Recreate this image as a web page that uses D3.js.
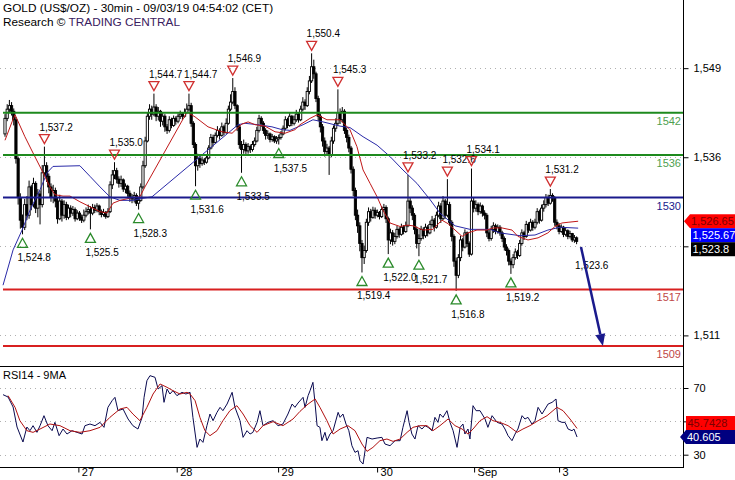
<!DOCTYPE html>
<html><head><meta charset="utf-8">
<script src="https://cdn.jsdelivr.net/npm/d3@7"></script>
<style>body{margin:0;background:#fff}svg{display:block}text{font-family:"Liberation Sans",Arial,sans-serif}</style>
</head><body><svg id="c" width="735" height="480"></svg>
<script>
// ---------- DATA ----------
const titleLine = "GOLD (US$/OZ) - 30min - 09/03/19 04:54:02 (CET)";
const firstOpen = 1539.0;
const closes = [
1541.2,1542.5,1543.0,1542.2,1541.0,1535.5,1530.0,1526.8,1525.8,1529.0,
1527.5,1531.5,1529.0,1532.0,1528.5,1530.5,1529.0,1533.5,1534.5,1533.0,
1531.5,1530.0,1531.0,1529.5,1527.0,1529.5,1527.5,1529.0,1527.2,1528.5,
1527.8,1528.3,1527.0,1527.8,1527.2,1526.8,1527.5,1528.0,1528.3,1527.8,
1528.6,1528.2,1528.8,1528.0,1527.6,1527.9,1527.3,1528.0,1531.8,1533.2,
1533.8,1532.6,1532.0,1532.5,1531.2,1531.6,1530.6,1530.0,1529.8,1530.3,
1529.2,1529.6,1531.5,1534.5,1538.0,1541.5,1542.5,1541.8,1542.8,1541.5,
1542.2,1540.8,1541.5,1540.0,1539.5,1541.0,1540.2,1541.2,1540.8,1541.5,
1541.8,1541.5,1542.0,1542.5,1543.0,1540.5,1537.5,1534.5,1535.5,1534.8,
1535.3,1535.0,1535.6,1537.0,1538.5,1537.8,1538.8,1539.5,1538.8,1540.0,
1539.2,1540.5,1542.5,1543.5,1545.0,1543.0,1540.0,1537.5,1536.8,1537.5,
1536.6,1537.2,1536.8,1537.5,1538.0,1539.5,1541.2,1540.5,1539.5,1538.8,
1539.0,1538.2,1538.6,1538.0,1538.3,1538.5,1539.0,1539.8,1541.0,1540.2,
1541.5,1540.5,1541.0,1541.8,1541.0,1542.5,1543.5,1543.0,1545.0,1546.5,
1548.5,1547.5,1544.0,1541.5,1540.0,1538.0,1536.5,1537.0,1536.0,1538.0,
1539.8,1540.5,1542.0,1541.0,1542.2,1539.5,1538.5,1537.0,1534.0,1531.0,
1527.5,1526.0,1523.5,1521.5,1522.5,1526.5,1528.0,1527.2,1528.2,1527.5,
1527.9,1527.3,1528.3,1528.6,1527.0,1524.0,1525.0,1523.8,1524.5,1525.5,
1524.8,1525.8,1525.2,1526.0,1529.5,1528.5,1527.5,1525.5,1523.5,1524.2,
1525.5,1524.6,1525.8,1525.0,1526.2,1526.8,1525.8,1527.5,1528.8,1527.0,
1529.5,1527.5,1529.0,1526.5,1524.5,1521.0,1519.0,1521.5,1524.0,1523.0,
1525.0,1523.5,1522.0,1529.5,1528.5,1529.0,1528.0,1528.8,1527.8,1527.5,
1525.0,1524.2,1525.5,1526.0,1525.2,1525.8,1525.0,1524.2,1523.0,1522.5,
1521.0,1520.5,1521.5,1522.3,1521.8,1523.5,1525.0,1524.5,1526.2,1525.4,
1526.5,1525.8,1526.5,1528.0,1526.8,1528.5,1529.0,1530.0,1529.2,1530.3,
1530.0,1526.5,1526.0,1525.2,1525.8,1524.8,1525.3,1524.5,1524.9,1524.0,1524.3,1523.8];
const highs = [
1541.8,1543.2,1543.8,1543.5,1542.6,1541.4,1535.8,1530.6,1527.6,1529.8,
1530.2,1532.4,1531.8,1532.8,1532.3,1531.2,1531.0,1534.6,1537.2,1535.0,
1533.4,1532.0,1531.8,1531.4,1530.0,1530.4,1529.8,1529.6,1529.4,1529.0,
1528.9,1528.8,1528.6,1528.2,1528.1,1527.6,1528.3,1528.6,1529.0,1528.8,
1529.1,1529.0,1529.2,1529.0,1528.3,1528.4,1528.1,1528.5,1532.3,1533.9,
1535.0,1534.2,1533.0,1533.1,1532.7,1532.0,1531.8,1531.0,1530.5,1530.8,
1530.6,1530.0,1532.0,1535.2,1538.6,1542.0,1543.2,1543.0,1544.7,1543.2,
1542.8,1542.4,1542.0,1541.8,1540.4,1541.5,1541.3,1541.6,1541.5,1541.9,
1542.3,1542.1,1542.6,1543.3,1544.7,1543.4,1540.8,1537.8,1536.2,1535.9,
1535.8,1535.6,1536.0,1537.4,1539.0,1538.9,1539.2,1540.1,1539.8,1540.6,
1540.3,1541.2,1543.0,1544.6,1546.9,1545.6,1543.2,1540.4,1538.0,1538.2,
1537.8,1537.7,1537.5,1538.0,1538.5,1540.0,1541.7,1541.5,1540.8,1539.8,
1539.5,1539.2,1539.0,1538.8,1538.7,1538.9,1539.4,1540.2,1541.5,1541.3,
1542.0,1541.7,1541.6,1542.4,1542.0,1543.0,1544.2,1543.9,1545.6,1547.2,
1550.4,1549.5,1547.8,1544.4,1541.9,1540.4,1538.5,1537.6,1537.3,1538.6,
1540.2,1541.2,1545.3,1542.6,1542.8,1542.5,1539.9,1538.9,1537.3,1534.4,
1531.4,1528.3,1526.5,1524.0,1523.2,1527.0,1528.6,1528.4,1528.7,1528.6,
1528.3,1528.1,1528.8,1529.1,1528.9,1527.3,1525.6,1525.4,1525.0,1526.0,
1525.8,1526.3,1526.1,1526.6,1533.2,1530.0,1528.9,1527.8,1525.9,1524.8,
1526.0,1525.8,1526.3,1526.1,1526.7,1527.4,1527.1,1528.0,1529.4,1529.2,
1530.2,1529.8,1532.6,1529.4,1526.8,1524.8,1521.5,1522.0,1524.6,1524.3,
1525.5,1525.2,1523.8,1534.1,1530.0,1529.6,1529.3,1529.3,1529.0,1528.2,
1527.8,1525.4,1526.0,1526.5,1526.3,1526.2,1526.1,1525.3,1524.5,1523.4,
1522.8,1521.4,1522.0,1522.8,1522.6,1524.0,1525.5,1525.3,1526.7,1526.5,
1527.0,1526.8,1527.0,1528.5,1528.3,1529.0,1529.6,1530.5,1530.4,1531.2,
1530.6,1530.2,1526.9,1526.4,1526.2,1526.0,1525.8,1525.5,1525.3,1525.0,1524.7,1524.5];
const lows = [
1538.6,1540.8,1542.0,1541.6,1540.2,1534.8,1529.0,1525.6,1524.8,1525.4,
1526.8,1527.0,1528.2,1528.6,1527.8,1527.2,1526.2,1528.6,1533.0,1532.2,
1530.6,1529.4,1529.2,1528.6,1526.3,1526.8,1526.6,1527.0,1526.8,1526.9,
1527.2,1527.4,1526.6,1526.8,1526.7,1526.4,1526.5,1527.2,1527.6,1525.5,
1527.5,1527.8,1527.9,1527.5,1527.2,1527.3,1527.0,1527.1,1527.8,1531.2,
1532.6,1532.0,1531.4,1531.5,1530.8,1530.6,1530.1,1529.4,1529.2,1529.3,
1528.8,1528.3,1529.4,1531.2,1534.2,1537.8,1541.0,1541.0,1541.5,1540.8,
1540.9,1540.0,1540.2,1539.3,1539.0,1539.2,1539.8,1540.0,1540.3,1540.5,
1541.1,1541.0,1541.3,1541.8,1542.2,1540.0,1537.0,1531.6,1533.8,1534.2,
1534.5,1534.6,1534.8,1535.4,1536.8,1537.2,1537.6,1538.5,1538.2,1538.6,
1538.8,1539.0,1540.3,1542.2,1543.2,1542.5,1539.4,1536.9,1533.5,1536.2,
1536.0,1536.2,1536.3,1536.5,1537.2,1537.8,1539.2,1540.0,1539.0,1538.2,
1538.3,1537.8,1537.9,1537.7,1537.6,1537.5,1538.2,1538.8,1539.5,1539.8,
1540.0,1540.1,1540.2,1540.7,1540.6,1540.8,1542.2,1542.4,1542.8,1544.6,
1546.2,1546.8,1543.5,1540.8,1539.2,1537.2,1535.8,1535.9,1533.2,1535.7,
1537.6,1539.3,1540.2,1540.4,1540.6,1539.0,1537.8,1536.4,1533.4,1530.2,
1526.8,1525.0,1522.4,1519.4,1520.6,1522.2,1526.0,1526.6,1527.0,1527.0,
1527.2,1526.9,1527.1,1528.0,1526.4,1522.0,1523.4,1523.2,1523.4,1524.2,
1524.3,1524.6,1524.8,1525.0,1525.8,1527.8,1526.8,1524.8,1522.8,1521.7,
1523.9,1524.1,1524.3,1524.5,1524.8,1525.9,1525.2,1525.6,1527.2,1526.4,
1526.8,1527.0,1527.2,1526.0,1523.8,1520.2,1516.8,1518.6,1521.0,1522.4,
1522.8,1523.0,1521.6,1521.8,1527.9,1528.0,1527.5,1527.7,1527.3,1526.9,
1524.4,1523.8,1523.9,1525.0,1524.8,1524.9,1524.6,1523.7,1522.5,1521.8,
1520.4,1519.2,1520.0,1521.2,1521.3,1521.6,1523.2,1524.0,1524.3,1525.0,
1525.2,1525.3,1525.5,1526.2,1526.3,1526.6,1528.0,1528.6,1528.8,1529.0,
1529.4,1526.0,1525.5,1524.8,1525.0,1524.4,1524.5,1524.1,1524.2,1523.7,1523.6,1523.4];

// moving averages drawn on the price: [bar, value]
const maRed = [[0,1538.1],[3.2,1540.7],[4.6,1541.7],[9.1,1538.6],[12.8,1536.3],[17.4,1533.5],[20.5,1531.5],[22.8,1530.4],[26.5,1530.2],[29.7,1530.2],[34.2,1529.4],[38.8,1528.7],[43.4,1528.0],[46.6,1527.8],[49.3,1529.2],[52.5,1529.6],[58.4,1530.0],[61.6,1530.1],[63.9,1531.5],[83.1,1542.1],[86.8,1541.4],[92.7,1540.0],[99.1,1539.3],[103.7,1539.1],[108.2,1540.4],[111,1540.7],[114.2,1540.3],[118.7,1540.1],[123.3,1539.3],[127.9,1539.1],[132.4,1539.6],[134.7,1540.3],[139.3,1541.2],[142.5,1541.7],[147,1541.0],[153,1541.0],[157.5,1539.6],[160.7,1537.2],[163.5,1533.9],[166.7,1532.0],[169.9,1530.1],[172.6,1528.2],[175.8,1526.4],[180.4,1525.9],[183.6,1526.1],[186.3,1526.0],[190.9,1525.4],[195.4,1525.5],[199.5,1526.8],[202.3,1526.3],[205.5,1525.4],[208.7,1524.5],[211.4,1525.0],[215.5,1525.4],[220.1,1525.4],[222.8,1525.7],[226.9,1525.7],[231.5,1525.4],[234.2,1524.5],[238.8,1524.0],[243.4,1524.3],[247.9,1525.0],[251.1,1525.9],[254.3,1526.4],[257.1,1526.5],[261.7,1526.65]];
const maBlue = [[-0.9,1517.6],[3.7,1522.6],[7.8,1525.4],[11.4,1528.2],[16,1531.1],[19.2,1533.5],[21.9,1534.4],[34.2,1534.5],[38.8,1533.0],[43.4,1531.5],[47.9,1530.1],[52.5,1529.6],[58.4,1529.6],[63,1529.9],[67.1,1530.1],[106.4,1540.3],[109.6,1540.5],[115.5,1540.3],[121.9,1540.0],[126.5,1539.6],[130.1,1539.5],[136.1,1540.3],[140.6,1541.0],[145.2,1540.7],[153,1540.1],[157.5,1539.9],[163.5,1538.6],[169.9,1537.4],[175.8,1535.8],[181.7,1533.9],[188.1,1532.0],[194.1,1529.7],[198.6,1527.8],[205.5,1526.0],[212.3,1525.5],[221.5,1525.5],[226,1525.0],[235.2,1524.6],[242,1524.7],[247.9,1525.4],[253.4,1525.8],[261.7,1525.67]];

// RSI14 and its 9MA: [bar, value]
const rsi = [[-0.9,66],[1.4,64.6],[3.7,58.6],[5.5,46.6],[8.2,37.6],[10,46.6],[11.4,44.4],[12.8,47.4],[14.6,43.4],[16,47.4],[17.8,53.4],[19.6,47.4],[21.5,44.4],[22.8,49.4],[24.7,41.4],[26.5,45.4],[28.3,42.4],[30.6,44.4],[32.9,43.4],[35.2,42.4],[36.5,47.4],[38.8,48.4],[41.1,47.4],[43.4,49.4],[45.2,46.4],[47,58.4],[48.9,62.4],[50.2,64.4],[51.6,56.4],[53.9,57.4],[56.2,51.4],[58.4,47.4],[60.7,45.4],[62.6,52.4],[63.5,64.4],[64.8,74.4],[66.2,77.4],[68.5,76.4],[69.9,69.4],[71.7,71.4],[72.6,61.4],[74,69.4],[75.3,66.4],[76.7,68.4],[78.5,65.4],[80.8,67.4],[82.6,66.4],[84.5,67.4],[85.8,52.4],[87.7,34.4],[89,39.4],[90.4,37.4],[92.2,47.4],[93.6,54.4],[95,50.4],[96.8,55.4],[98.2,58.4],[99.5,56.4],[101.4,60.4],[103.7,67.4],[105,58.4],[107.3,50.4],[108.7,40.4],[110.5,44.4],[111.9,42.4],[113.2,43.4],[115.1,49.4],[116.4,56.4],[117.8,47.4],[120.1,49.4],[122.4,50.4],[124.7,47.4],[126.9,48.4],[129.2,54.4],[131.1,60.4],[132.4,58.4],[133.8,61],[136.1,64.4],[137,58.4],[138.4,65.4],[139.3,68.4],[140.6,73.4],[141.6,60.4],[142.5,47.4],[143.8,46.4],[144.7,38.4],[146.1,43.4],[147,38.4],[148.4,42.4],[149.8,44.4],[152.1,55.4],[153,52.4],[154.3,54.4],[155.7,48.4],[157,44.4],[158.4,35.4],[159.8,31.4],[161.2,32.4],[162.1,26.4],[163.5,24.4],[164.4,32.4],[165.3,40.4],[167.6,39.4],[169.9,40],[172.1,40.4],[173.5,36.4],[175.8,35.4],[178.1,38.4],[180.4,38.4],[181.7,46.4],[183.6,56.4],[184.5,49.4],[185.8,42.4],[187.2,39.4],[188.6,47.4],[190.4,45.4],[191.8,47.4],[193.2,46.4],[195,44.4],[196.3,52.4],[197.7,49.4],[198.6,54.4],[200,52.4],[201.8,56.4],[203.2,49.4],[204.6,44.4],[206.4,34.4],[207.8,46.4],[209.1,48.4],[210,42.4],[211.4,45.4],[212.3,39.4],[213.7,59.4],[215.1,56.4],[216.9,56.4],[219.2,51.4],[220.5,46.4],[222.4,53.4],[224.7,49.4],[226.9,48.4],[228.3,45.4],[229.7,41.4],[231.5,38.4],[232.9,42.4],[234.2,45.4],[236.1,53.4],[237.4,51.4],[238.8,52.4],[240.6,48.4],[242,50.4],[243.4,58.4],[245.2,54.4],[246.6,57.4],[248,60.4],[249.8,61.4],[251.6,63.4],[252.5,50.4],[254.3,49.4],[255.7,49.4],[257.1,45.4],[258.9,44.4],[259.8,45.4],[261.2,40.605]];
const rsiMA = [[1.4,65.4],[4.6,58.4],[6.8,50.4],[10,44.4],[12.8,43.4],[16,45.4],[20.5,48.4],[25.1,47.4],[29.7,44.4],[34.2,43.4],[38.8,44.4],[43.4,46.4],[47.9,52.4],[52.5,57.4],[55.7,58.4],[58.4,54.4],[61.6,50.4],[64.8,58.4],[67.6,66.4],[70.8,72.4],[74,70.4],[76.7,68.4],[79.9,66.4],[83.1,67.4],[84.5,66.4],[86.8,62.4],[89,52.4],[91.3,44.4],[93.6,41.4],[96.8,44.4],[99.5,50.4],[102.7,56.4],[105.9,59.4],[108.7,54.4],[111.9,47.4],[115.1,43.4],[117.8,47.4],[122.4,49.8],[126.9,47.4],[131.5,51.4],[134.7,56],[138.4,60.4],[141.6,63.4],[143.8,58.4],[147,50.4],[149.8,42.4],[153,45.4],[156.6,47.4],[159.8,44.4],[163,36.4],[165.3,32],[168,34.4],[171.2,38.4],[174.4,39.4],[177.2,38],[180.4,39.4],[183.6,43.4],[186.3,46.4],[189.5,47.4],[192.7,47.4],[195.4,44.4],[198.6,47.4],[202.3,51.4],[205.5,47.4],[208.7,45.4],[211.4,42.4],[213.7,45.4],[216.9,50.4],[220.1,52.8],[222.8,50.4],[226,49.4],[229.7,47.4],[233.8,43.4],[236.5,45.4],[239.7,47.4],[243.4,50.4],[247.5,53.4],[250.2,56.4],[252,58.4],[254.8,56.4],[258,51.4],[261.2,45.7428]];

// support / resistance levels
const levelValues = [1542, 1536, 1530, 1517, 1509];
const levelKinds  = ["res", "res", "pivot", "sup", "sup"];

// swing highs / lows annotated on the chart
const swingHighBars = [18, 50, 68, 84, 104, 140, 152, 184, 202, 213, 249];
const swingHighVals = [1537.2, 1535.0, 1544.7, 1544.7, 1546.9, 1550.4, 1545.3, 1533.2, 1532.6, 1534.1, 1531.2];
const swingLowBars  = [8, 39, 61, 87, 108, 125, 163, 175, 189, 206, 231];
const swingLowVals  = [1524.8, 1525.5, 1528.3, 1531.6, 1533.5, 1537.5, 1519.4, 1522.0, 1521.7, 1516.8, 1519.2];

// projected move
const projFrom = [263, 1523.0];
const projTo = [273, 1509];
const projLabel = "1,523.6";

// axes (labels hidden behind the value tags are left blank, as in the reference)
const priceTickValues = [1510.5, 1523.1, 1535.7, 1548.3];
const priceTickLabels = ["1,511", "", "1,536", "1,549"];
const rsiTickValues = [30, 50, 70];
const rsiTickLabels = ["30", "", "70"];
const dayBars = [33.5, 78.4, 124.7, 169.9, 214.2, 253];
const dayLabels = ["27", "28", "29", "30", "Sep", "3"];

// last-value tags
const priceTagVals = [1526.65, 1525.67, 1523.8];
const priceTagText = ["1,526.65", "1,525.67", "1,523.8"];
const rsiTagVals = [45.7428, 40.605];
const rsiTagText = ["45.7428", "40.605"];

// ---------- DRAWING ----------
const svg = d3.select("#c");
const AX = 683.5;
const x = d3.scaleLinear().domain([0, 262]).range([5, 578.8]);
const y = d3.scaleLinear().domain([1542, 1509]).range([112.7, 346]);
const yr = d3.scaleLinear().domain([70, 30]).range([388, 454.7]);
const FONT = "Liberation Sans, Arial, sans-serif";

const C = {green:"#1e8a1e", greenTxt:"#4f9f4f", navy:"#1a1a8c", red:"#d82020", redTxt:"#c04848",
           maRed:"#c01818", maBlue:"#2a2aa8", rsi:"#0a0a50", rsiMA:"#b01010", grid:"#b0b0b0"};

// title
svg.append("text").attr("x",3).attr("y",12).attr("font-size",11.8).text(titleLine);
const t2 = svg.append("text").attr("x",3).attr("y",26).attr("font-size",11.8);
t2.append("tspan").text("Research © ");
t2.append("tspan").attr("fill","#3a2060").text("TRADING CENTRAL");

// grids
svg.append("g").selectAll("line").data(priceTickValues).join("line")
  .attr("x1",0).attr("x2",AX).attr("y1",d=>Math.round(y(d))+0.5).attr("y2",d=>Math.round(y(d))+0.5)
  .attr("stroke",C.grid).attr("stroke-dasharray","1,4");
svg.append("g").selectAll("line").data(rsiTickValues).join("line")
  .attr("x1",0).attr("x2",AX).attr("y1",d=>Math.round(yr(d))+0.5).attr("y2",d=>Math.round(yr(d))+0.5)
  .attr("stroke",C.grid).attr("stroke-dasharray","1,4");

// candles
const bars = closes.map((c,i)=>({i, o: i===0?firstOpen:closes[i-1], c, h: highs[i], l: lows[i]}));
const cg = svg.append("g");
cg.selectAll("line").data(bars).join("line")
  .attr("x1",d=>x(d.i)).attr("x2",d=>x(d.i)).attr("y1",d=>y(d.h)).attr("y2",d=>y(d.l))
  .attr("stroke","#000").attr("stroke-width",1);
cg.selectAll("rect").data(bars).join("rect")
  .attr("x",d=>x(d.i)-1.1).attr("width",2.2)
  .attr("y",d=>y(Math.max(d.o,d.c)))
  .attr("height",d=>Math.max(1,Math.abs(y(d.o)-y(d.c))))
  .attr("fill",d=>d.c>=d.o?"#fff":"#000").attr("stroke","#000").attr("stroke-width",0.9);

// moving averages
const lp = d3.line().x(d=>x(d[0])).y(d=>y(d[1]));
svg.append("path").attr("d",lp(maBlue)).attr("fill","none").attr("stroke",C.maBlue).attr("stroke-width",1);
svg.append("path").attr("d",lp(maRed)).attr("fill","none").attr("stroke",C.maRed).attr("stroke-width",1);

// level lines
const levelColor = k => k==="res"?C.green:(k==="pivot"?C.navy:C.red);
const levelTxt = k => k==="res"?C.greenTxt:(k==="pivot"?C.navy:C.redTxt);
const lg = svg.append("g");
levelValues.forEach((v,j)=>{
  lg.append("line").attr("x1",3).attr("x2",AX).attr("y1",y(v)).attr("y2",y(v))
    .attr("stroke",levelColor(levelKinds[j])).attr("stroke-width",2);
  lg.append("text").attr("x",681).attr("y",y(v)+12).attr("text-anchor","end").attr("font-size",11)
    .attr("fill",levelTxt(levelKinds[j])).text(v);
});

// swing markers
const fmt = d3.format(",.1f");
const mg = svg.append("g");
swingHighBars.forEach((b,j)=>{
  const cx = x(b), cy = y(swingHighVals[j]);
  mg.append("path").attr("d",`M${cx-5},${cy-12}L${cx+5},${cy-12}L${cx},${cy-3}Z`)
    .attr("fill","none").attr("stroke","#d03030").attr("stroke-width",1.3);
  mg.append("text").attr("x",cx-5).attr("y",cy-16).attr("font-size",10).text(fmt(swingHighVals[j]));
});
swingLowBars.forEach((b,j)=>{
  const cx = x(b), cy = y(swingLowVals[j]);
  mg.append("path").attr("d",`M${cx-5},${cy+13}L${cx+5},${cy+13}L${cx},${cy+4}Z`)
    .attr("fill","none").attr("stroke","#2a8a2a").attr("stroke-width",1.3);
  mg.append("text").attr("x",cx-5).attr("y",cy+27).attr("font-size",10).text(fmt(swingLowVals[j]));
});

// projection arrow
{
  const x1=x(projFrom[0]), y1=y(projFrom[1]), x2=x(projTo[0]), y2=y(projTo[1]);
  svg.append("text").attr("x",x1-6).attr("y",y1+22).attr("font-size",10).text(projLabel);
  const ang = Math.atan2(y2-y1, x2-x1), L=12, Wd=5;
  const bx = x2 - L*Math.cos(ang), by = y2 - L*Math.sin(ang);
  svg.append("line").attr("x1",x1).attr("y1",y1).attr("x2",bx).attr("y2",by)
    .attr("stroke",C.navy).attr("stroke-width",2.5);
  svg.append("path").attr("d",`M${x2},${y2}L${bx+Wd*Math.sin(ang)},${by-Wd*Math.cos(ang)}L${bx-Wd*Math.sin(ang)},${by+Wd*Math.cos(ang)}Z`)
    .attr("fill",C.navy);
}

// frame
svg.append("line").attr("x1",AX).attr("x2",AX).attr("y1",0).attr("y2",468).attr("stroke","#000");
svg.append("line").attr("x1",0).attr("x2",AX).attr("y1",366.5).attr("y2",366.5).attr("stroke","#000");
svg.append("line").attr("x1",0).attr("x2",AX).attr("y1",467.5).attr("y2",467.5).attr("stroke","#000");

// RSI panel
svg.append("text").attr("x",3).attr("y",379).attr("font-size",11).text("RSI14 - 9MA");
const lr = d3.line().x(d=>x(d[0])).y(d=>yr(d[1]));
svg.append("path").attr("d",lr(rsi)).attr("fill","none").attr("stroke",C.rsi).attr("stroke-width",1);
svg.append("path").attr("d",lr(rsiMA)).attr("fill","none").attr("stroke",C.rsiMA).attr("stroke-width",1);

// right axes
const ya = d3.axisRight(y).tickValues(priceTickValues).tickSize(5)
  .tickFormat((d,i)=>priceTickLabels[i]);
const gy = svg.append("g").attr("transform",`translate(${AX},0)`).call(ya);
gy.select(".domain").remove();
gy.selectAll("text").attr("font-size",11).attr("x",10).attr("font-family",FONT).attr("fill","#000");
const yra = d3.axisRight(yr).tickValues(rsiTickValues).tickSize(5).tickFormat((d,i)=>rsiTickLabels[i]);
const gr = svg.append("g").attr("transform",`translate(${AX},0)`).call(yra);
gr.select(".domain").remove();
gr.selectAll("text").attr("font-size",11).attr("x",10).attr("font-family",FONT).attr("fill","#000");

// bottom day axis
const xa = d3.axisBottom(x).tickValues(dayBars).tickSize(5).tickFormat((d,i)=>dayLabels[i]);
const gx = svg.append("g").attr("transform","translate(0,467.5)").call(xa);
gx.select(".domain").remove();
gx.selectAll("text").attr("font-size",11).attr("text-anchor","start").attr("x",3).attr("y",1).attr("dy","0.71em")
  .attr("font-family",FONT).attr("fill","#000");

// value tags on right axis
function tags(vals, texts, scale, styles, anchorIdx, tipX, bodyX){
  const ys = vals.map(v=>scale(v));
  const h = 14;
  const pos = ys.slice();
  for(let k=anchorIdx+1;k<vals.length;k++) pos[k] = Math.max(ys[k], pos[k-1]+h);
  for(let k=anchorIdx-1;k>=0;k--) pos[k] = Math.min(ys[k], pos[k+1]-h);
  vals.forEach((v,k)=>{
    const cy = pos[k], s = styles[k];
    if(k===anchorIdx){
      svg.append("path").attr("d",`M${tipX},${cy}L${tipX+6},${cy-h/2}L735,${cy-h/2}L735,${cy+h/2}L${tipX+6},${cy+h/2}Z`).attr("fill",s.bg);
    } else {
      svg.append("rect").attr("x",bodyX).attr("y",cy-h/2).attr("width",735-bodyX).attr("height",h).attr("fill",s.bg);
    }
    svg.append("text").attr("x",(k===anchorIdx?tipX+7:bodyX+1.5)).attr("y",cy+4).attr("font-size",11)
      .attr("fill",s.fg).text(texts[k]);
  });
}
tags(priceTagVals, priceTagText, y,
  [{bg:"#ff0000",fg:"#7a0000"},{bg:"#0000ff",fg:"#ffffff"},{bg:"#000000",fg:"#ffffff"}], 0, 684, 691);
tags(rsiTagVals, rsiTagText, yr,
  [{bg:"#ff0000",fg:"#7a0000"},{bg:"#000080",fg:"#ffffff"}], 1, 680, 686);
</script>
</body></html>
